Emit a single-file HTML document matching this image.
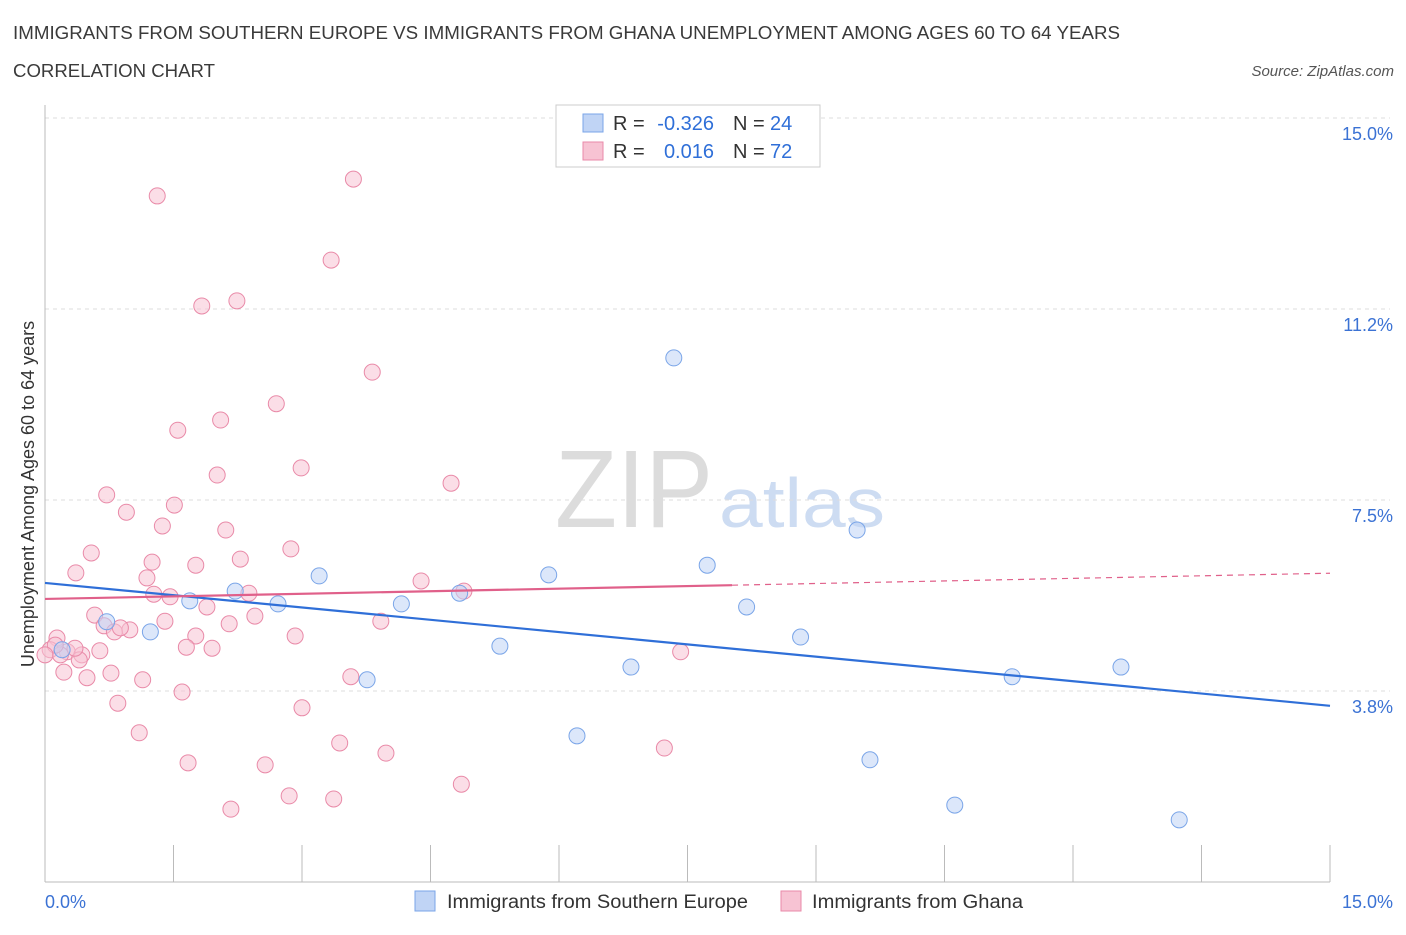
<!DOCTYPE html>
<html><head><meta charset="utf-8"><style>
body{margin:0;background:#fff;font-family:"Liberation Sans",sans-serif;}
svg text{font-family:"Liberation Sans",sans-serif;}
</style></head><body>
<svg id="chart" width="1406" height="930" xmlns="http://www.w3.org/2000/svg">
<text x="13" y="39" font-size="18" fill="#3a3a3a" textLength="1107" lengthAdjust="spacingAndGlyphs">IMMIGRANTS FROM SOUTHERN EUROPE VS IMMIGRANTS FROM GHANA UNEMPLOYMENT AMONG AGES 60 TO 64 YEARS</text>
<text x="13" y="77" font-size="18" fill="#3a3a3a" textLength="202" lengthAdjust="spacingAndGlyphs">CORRELATION CHART</text>
<text x="1394" y="76" font-size="15" font-style="italic" fill="#555" text-anchor="end">Source: ZipAtlas.com</text>
<g>
<text x="634" y="527" font-size="110" font-family="Liberation Serif" fill="#dcdcdc" text-anchor="middle" textLength="158" lengthAdjust="spacingAndGlyphs">ZIP</text>
<text x="802" y="527" font-size="70" fill="#cddcf2" text-anchor="middle" textLength="166" lengthAdjust="spacingAndGlyphs">atlas</text>
</g>
<g id="grid"></g><g id="axes"></g><g id="marks"></g>
<g>
<rect x="556" y="105" width="264" height="62" fill="#fff" stroke="#ccc"/>
<rect x="583" y="114" width="20" height="18" fill="#c0d4f5" stroke="#7aa5e8"/>
<rect x="583" y="142" width="20" height="18" fill="#f7c3d3" stroke="#e98aa8"/>
<text x="613" y="130" font-size="20" fill="#333">R =</text>
<text x="714" y="130" font-size="20" fill="#2f6fd8" text-anchor="end">-0.326</text>
<text x="733" y="130" font-size="20" fill="#333">N =</text>
<text x="770" y="130" font-size="20" fill="#2f6fd8">24</text>
<text x="613" y="158" font-size="20" fill="#333">R =</text>
<text x="714" y="158" font-size="20" fill="#2f6fd8" text-anchor="end">0.016</text>
<text x="733" y="158" font-size="20" fill="#333">N =</text>
<text x="770" y="158" font-size="20" fill="#2f6fd8">72</text>
</g>
<g>
<rect x="415" y="891" width="20" height="20" fill="#c0d4f5" stroke="#7aa5e8"/>
<text x="447" y="908" font-size="19" fill="#333" textLength="301" lengthAdjust="spacingAndGlyphs">Immigrants from Southern Europe</text>
<rect x="781" y="891" width="20" height="20" fill="#f7c3d3" stroke="#e98aa8"/>
<text x="812" y="908" font-size="19" fill="#333" textLength="211" lengthAdjust="spacingAndGlyphs">Immigrants from Ghana</text>
</g>
<text transform="translate(34,494) rotate(-90)" font-size="18" fill="#333" text-anchor="middle">Unemployment Among Ages 60 to 64 years</text>
</svg>
<script>
const yTicks=[3.75,7.5,11.25,15];
const yTickLabels=["3.8%","7.5%","11.2%","15.0%"];
const blueX=[.20,.72,1.23,1.69,2.22,2.72,3.20,3.76,4.16,4.84,5.31,5.88,6.21,6.84,7.34,7.73,8.19,8.82,9.48,9.63,10.62,11.29,12.56,13.24];
const blueY=[4.56,5.11,4.91,5.52,5.71,5.46,6.01,3.97,5.46,5.67,4.63,6.03,2.87,4.22,10.29,6.22,5.40,4.81,6.91,2.40,1.51,4.03,4.22,1.22];
const pinkX=[1.31,3.60,3.34,1.83,2.24,3.82,2.70,1.55,2.05,2.99,2.01,4.74,.72,1.51,.95,1.37,2.11,.54,1.25,2.28,2.87,.36,1.76,1.19,4.39,1.27,1.46,2.38,4.89,1.89,.58,2.45,1.40,3.92,2.15,.69,.99,.81,1.76,2.92,.14,1.65,1.95,.64,.26,.06,.18,.43,.40,.22,.77,.49,1.14,3.57,1.60,.85,3.00,1.10,3.44,7.23,3.98,1.67,2.57,4.86,2.85,3.37,2.17,7.42,.12,.35,.88,0];
const pinkY=[13.47,13.80,12.21,11.31,11.41,10.01,9.39,8.87,9.07,8.13,7.99,7.83,7.60,7.40,7.26,6.99,6.91,6.46,6.28,6.34,6.54,6.07,6.22,5.97,5.91,5.65,5.60,5.67,5.71,5.40,5.24,5.22,5.12,5.12,5.07,5.03,4.95,4.91,4.83,4.83,4.79,4.61,4.59,4.54,4.52,4.56,4.46,4.46,4.36,4.12,4.10,4.01,3.97,4.03,3.73,3.51,3.42,2.93,2.73,2.63,2.53,2.34,2.30,1.92,1.69,1.63,1.43,4.52,4.65,4.59,4.99,4.46];
const NS="http://www.w3.org/2000/svg";
const X0=45,X1=1330,Y0=882,Y1=118;
const sx=v=>X0+(v/15)*(X1-X0), sy=v=>Y0-(v/15)*(Y0-Y1);
function mk(tag,attrs,parent){const e=document.createElementNS(NS,tag);for(const k in attrs)e.setAttribute(k,attrs[k]);document.getElementById(parent).appendChild(e);return e;}
yTicks.forEach((t,i)=>{
 const l=mk('line',{x1:X0,x2:X1+60,y1:sy(t),y2:sy(t),stroke:'#ddd','stroke-dasharray':'4,4'},'grid');
 
 
 const tx=mk('text',{x:1393,y:sy(t)+22,'font-size':18,fill:'#3b72d4','text-anchor':'end'},'axes');
 tx.textContent=yTickLabels[i];
 
 
});
const ax=mk('line',{x1:X0,x2:X1,y1:Y0,y2:Y0,stroke:'#bbb'},'axes');


const ay=mk('line',{x1:X0,x2:X0,y1:105,y2:Y0,stroke:'#bbb'},'axes');


for(let i=0;i<=10;i++){const t=mk('line',{x1:sx(i*1.5),x2:sx(i*1.5),y1:845,y2:Y0,stroke:'#bbb'},'axes');
 
 }
[["0.0%",X0,'start'],["15.0%",1393,'end']].forEach(([s,x,a])=>{const t=mk('text',{x:x,y:908,'font-size':18,fill:'#3b72d4','text-anchor':a},'axes');t.textContent=s;
 
 });
function fit(xs,ys){const n=xs.length;let mx=0,my=0;for(let i=0;i<n;i++){mx+=xs[i];my+=ys[i];}mx/=n;my/=n;let a=0,b=0;for(let i=0;i<n;i++){a+=(xs[i]-mx)*(ys[i]-my);b+=(xs[i]-mx)**2;}const s=a/b;return [s,my-s*mx];}
function pts(xs,ys,fill,stroke,name){xs.forEach((x,i)=>{const c=mk('circle',{cx:sx(x),cy:sy(ys[i]),r:8,fill:fill,'fill-opacity':0.55,stroke:stroke,'stroke-width':1},'marks');
 
 });}
pts(pinkX,pinkY,'#f7c3d3','#e98aa8','ghana-point');
pts(blueX,blueY,'#c0d4f5','#7aa5e8','southern-europe-point');
let [s,b]=fit(blueX,blueY);
const bl=mk('line',{x1:sx(0),y1:sy(b),x2:sx(15),y2:sy(b+s*15),stroke:'#2f6fd8','stroke-width':2.2},'marks');


[s,b]=fit(pinkX,pinkY);const xm=Math.max(...pinkX)+0.6;
const pl=mk('line',{x1:sx(0),y1:sy(b),x2:sx(xm),y2:sy(b+s*xm),stroke:'#e0608a','stroke-width':2.2},'marks');


const pd=mk('line',{x1:sx(xm),y1:sy(b+s*xm),x2:sx(15),y2:sy(b+s*15),stroke:'#e0608a','stroke-width':1.2,'stroke-dasharray':'6,5'},'marks');


</script>
</body></html>
